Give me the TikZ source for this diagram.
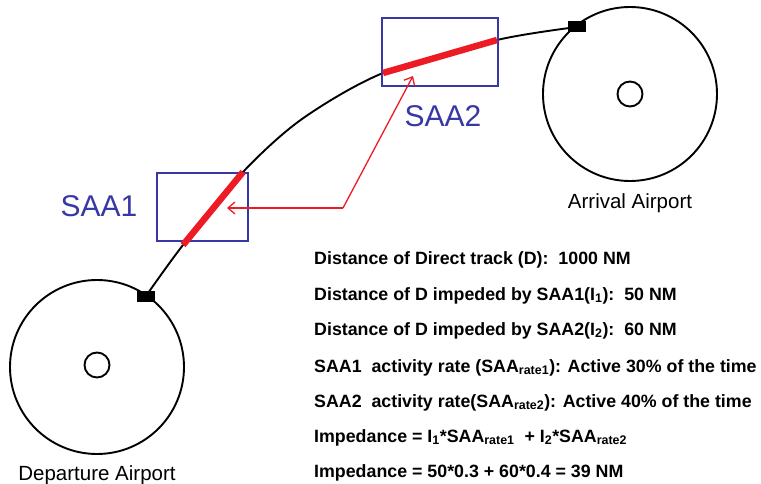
\documentclass[tikz,border=0pt]{standalone}
\usepackage{fontspec}
\setmainfont{Liberation Sans}
\usetikzlibrary{arrows.meta}
\definecolor{saablue}{RGB}{55,55,165}
\definecolor{saared}{RGB}{237,28,36}
\begin{document}
\begin{tikzpicture}[x=1pt,y=-1pt,
  airport/.style={circle,draw,line width=1.9pt,minimum size=174pt,inner sep=0pt},
  hub/.style={circle,draw,line width=1.9pt,minimum size=25pt,inner sep=0pt},
  gate/.style={rectangle,fill=black,minimum width=18pt,minimum height=11pt,inner sep=0pt},
  saabox/.style={rectangle,draw=saablue,line width=1.3pt,inner sep=0pt},
  saalabel/.style={text=saablue,anchor=base,inner sep=0pt,font=\fontsize{30}{32}\selectfont},
  aplabel/.style={anchor=base,inner sep=0pt,font=\fontsize{20.5}{22}\selectfont},
  info/.style={anchor=base west,inner sep=0pt,font=\bfseries\fontsize{17.8}{19}\selectfont},
  track/.style={line width=1.9pt},
  impeded/.style={saared,line width=6.5pt},
  pointer/.style={saared,line width=1.3pt,-{Straight Barb[length=7pt,width=12pt]}}]
\useasboundingbox (0,0) rectangle (761,484);
% airports
\node[airport] (dep) at (97,367) {};
\node[hub] (deph) at (97,365) {};
\node[airport] (arr) at (630,94) {};
\node[hub] (arrh) at (630,94) {};
\node[aplabel] (depl) at (97,480) {Departure Airport};
\node[aplabel] (arrl) at (630,208) {Arrival Airport};
% track
\coordinate (t0) at (146,296);
\coordinate (s1a) at (183,245);
\coordinate (s1b) at (243,172);
\coordinate (tm) at (302,119);
\coordinate (s2a) at (383,73);
\coordinate (s2b) at (497,40);
\coordinate (t1) at (577,27);
\draw[track] plot[smooth] coordinates {(146,296) (183,245) (243,172) (302,119) (383,73) (497,40) (577,27)};
\node[gate] (depg) at (t0) {};
\node[gate] (arrg) at (t1) {};
% SAA boxes
\node[saabox,minimum width=91pt,minimum height=68pt] (saa1) at (202.5,207) {};
\node[saabox,minimum width=116pt,minimum height=68pt] (saa2) at (440,52) {};
\draw[impeded] (s1a) -- (s1b);
\draw[impeded] (s2a) -- (s2b);
\node[saalabel] (l1) at (99,217) {SAA1};
\node[saalabel] (l2) at (443,127) {SAA2};
% pointers
\coordinate (bend) at (343,208);
\coordinate (p1) at (227,208);
\coordinate (p2) at (413,76);
\draw[pointer] (bend) -- (p1);
\draw[pointer] (bend) -- (p2);
% info text
\node[info] (i1) at (314,264) {Distance of Direct track (D):\ \ 1000 NM};
\node[info] (i2) at (314,300) {Distance of D impeded by SAA1(I\textsubscript{1}):\ \ 50 NM};
\node[info] (i3) at (314,335) {Distance of D impeded by SAA2(I\textsubscript{2}):\ \ 60 NM};
\node[info] (i4) at (314,372) {SAA1\ \ activity rate (SAA\textsubscript{rate1}): Active 30\% of the time};
\node[info] (i5) at (314,407) {SAA2\ \ activity rate(SAA\textsubscript{rate2}): Active 40\% of the time};
\node[info] (i6) at (314,442) {Impedance = I\textsubscript{1}*SAA\textsubscript{rate1}\ \ + I\textsubscript{2}*SAA\textsubscript{rate2}};
\node[info] (i7) at (314,477) {Impedance = 50*0.3 + 60*0.4 = 39 NM};
\end{tikzpicture}
\end{document}
